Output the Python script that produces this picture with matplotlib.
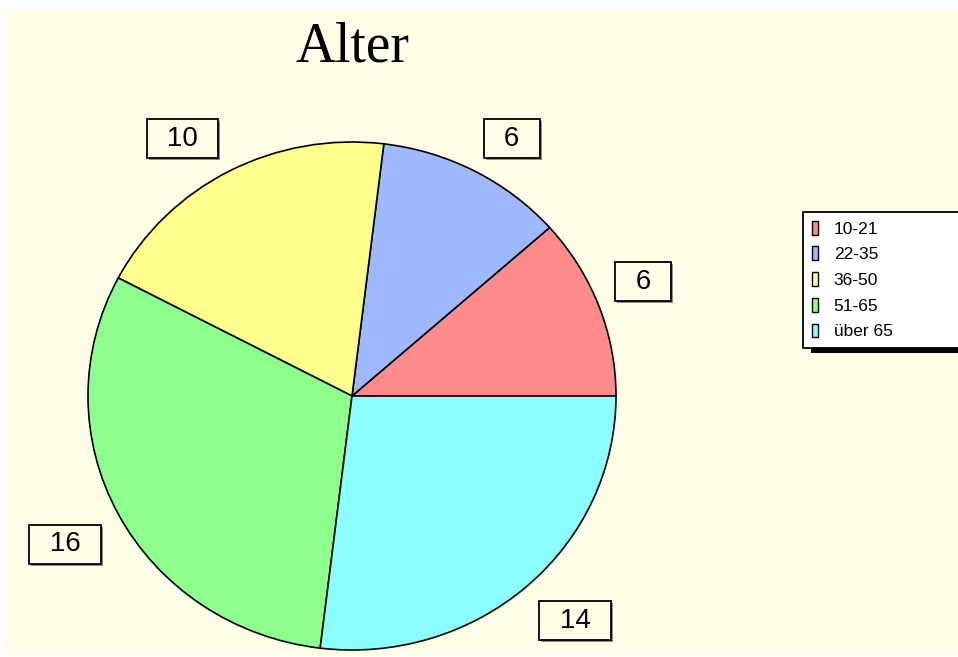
import numpy as np
import matplotlib.pyplot as plt
import matplotlib.transforms as mtransforms
from matplotlib.patches import Rectangle, Patch

# Altersgruppen und Anzahl
groups = ['10-21', '22-35', '36-50', '51-65', 'über 65']
counts = [6, 6, 10, 16, 14]
colors = ['#FF8C8C', '#A0B8FF', '#FFFF8C', '#8CFF8C', '#8CFFFF']

W, H = 958, 657
fig = plt.figure(figsize=(W / 100, H / 100), dpi=100)
fig.patch.set_facecolor('white')

# cremefarbener Hintergrund
fig.patches.append(Rectangle((5 / W, 2 / H), 953 / W, 646 / H,
                             transform=fig.transFigure, facecolor='#FEFEE8',
                             edgecolor='none', zorder=-5))

fig.text(352 / W, 1 - 47 / H, 'Alter', ha='center', va='center',
         fontsize=40, family='Liberation Serif')

# Kreis liegt in eigenen Achsen, damit er leicht elliptisch wird
ax = fig.add_axes([88 / W, 7 / H, 528 / W, 508 / H])
ax.set_zorder(1)

wedges, _ = ax.pie(counts, colors=colors, startangle=0, counterclock=True,
                   radius=1, wedgeprops=dict(edgecolor='black', linewidth=1.2))
ax.set_aspect('auto')
ax.set_xlim(-1, 1)
ax.set_ylim(-1, 1)
ax.axis('off')

# Wertekästchen: die dem Kreis zugewandte Ecke sitzt auf der Winkelhalbierenden
box = dict(boxstyle='square,pad=0.23', edgecolor='black', linewidth=1.3)
for w, c in zip(wedges, counts):
    theta = np.deg2rad((w.theta1 + w.theta2) / 2)
    x, y = 1.06 * np.cos(theta), 1.06 * np.sin(theta)
    ha = 'left' if np.cos(theta) > 0 else 'right'
    va = 'bottom' if np.sin(theta) > 0 else 'top'
    dx = 8 if ha == 'left' else -10
    dy = 6 if va == 'bottom' else -10
    label = '\u2002' + str(c) + '\u2002'
    tr = mtransforms.offset_copy(ax.transData, fig=fig, x=dx, y=dy, units='dots')
    ax.text(x, y, label, ha=ha, va=va, fontsize=20, family='Liberation Sans',
            transform=tr, zorder=5, clip_on=False,
            bbox=dict(box, facecolor='#FEFEE8'))
    # grauer Schatten rechts unten
    tr2 = mtransforms.offset_copy(ax.transData, fig=fig, x=dx + 2, y=dy - 2,
                                  units='dots')
    ax.text(x, y, label, ha=ha, va=va, fontsize=20, family='Liberation Sans',
            color='none', transform=tr2, zorder=4, clip_on=False,
            bbox=dict(boxstyle='square,pad=0.23', facecolor='#8C8C8C',
                      edgecolor='none'))

handles = [Patch(facecolor=c, edgecolor='black', linewidth=1) for c in colors]
leg = fig.legend(handles, groups, loc='upper left',
                 bbox_to_anchor=(803 / W, 1 - 212 / H - 0.01, 170 / W, 0.01),
                 mode='expand', borderaxespad=0, fancybox=False,
                 prop={'family': 'Liberation Sans', 'size': 12.5},
                 handlelength=0.35, handleheight=0.86, handletextpad=0.92,
                 labelspacing=0.56, borderpad=0.5, framealpha=1)
leg.get_frame().set_edgecolor('black')
leg.get_frame().set_linewidth(1.3)
leg.set_zorder(6)

# schwarzer Schatten unter der Legende
fig.canvas.draw()
bb = leg.get_window_extent()
fig.patches.append(Rectangle(((bb.x0 + 8) / W, (bb.y0 - 5) / H),
                             bb.width / W, bb.height / H,
                             transform=fig.transFigure, facecolor='black',
                             edgecolor='none', zorder=5))

fig.savefig('out.png', dpi=100)
